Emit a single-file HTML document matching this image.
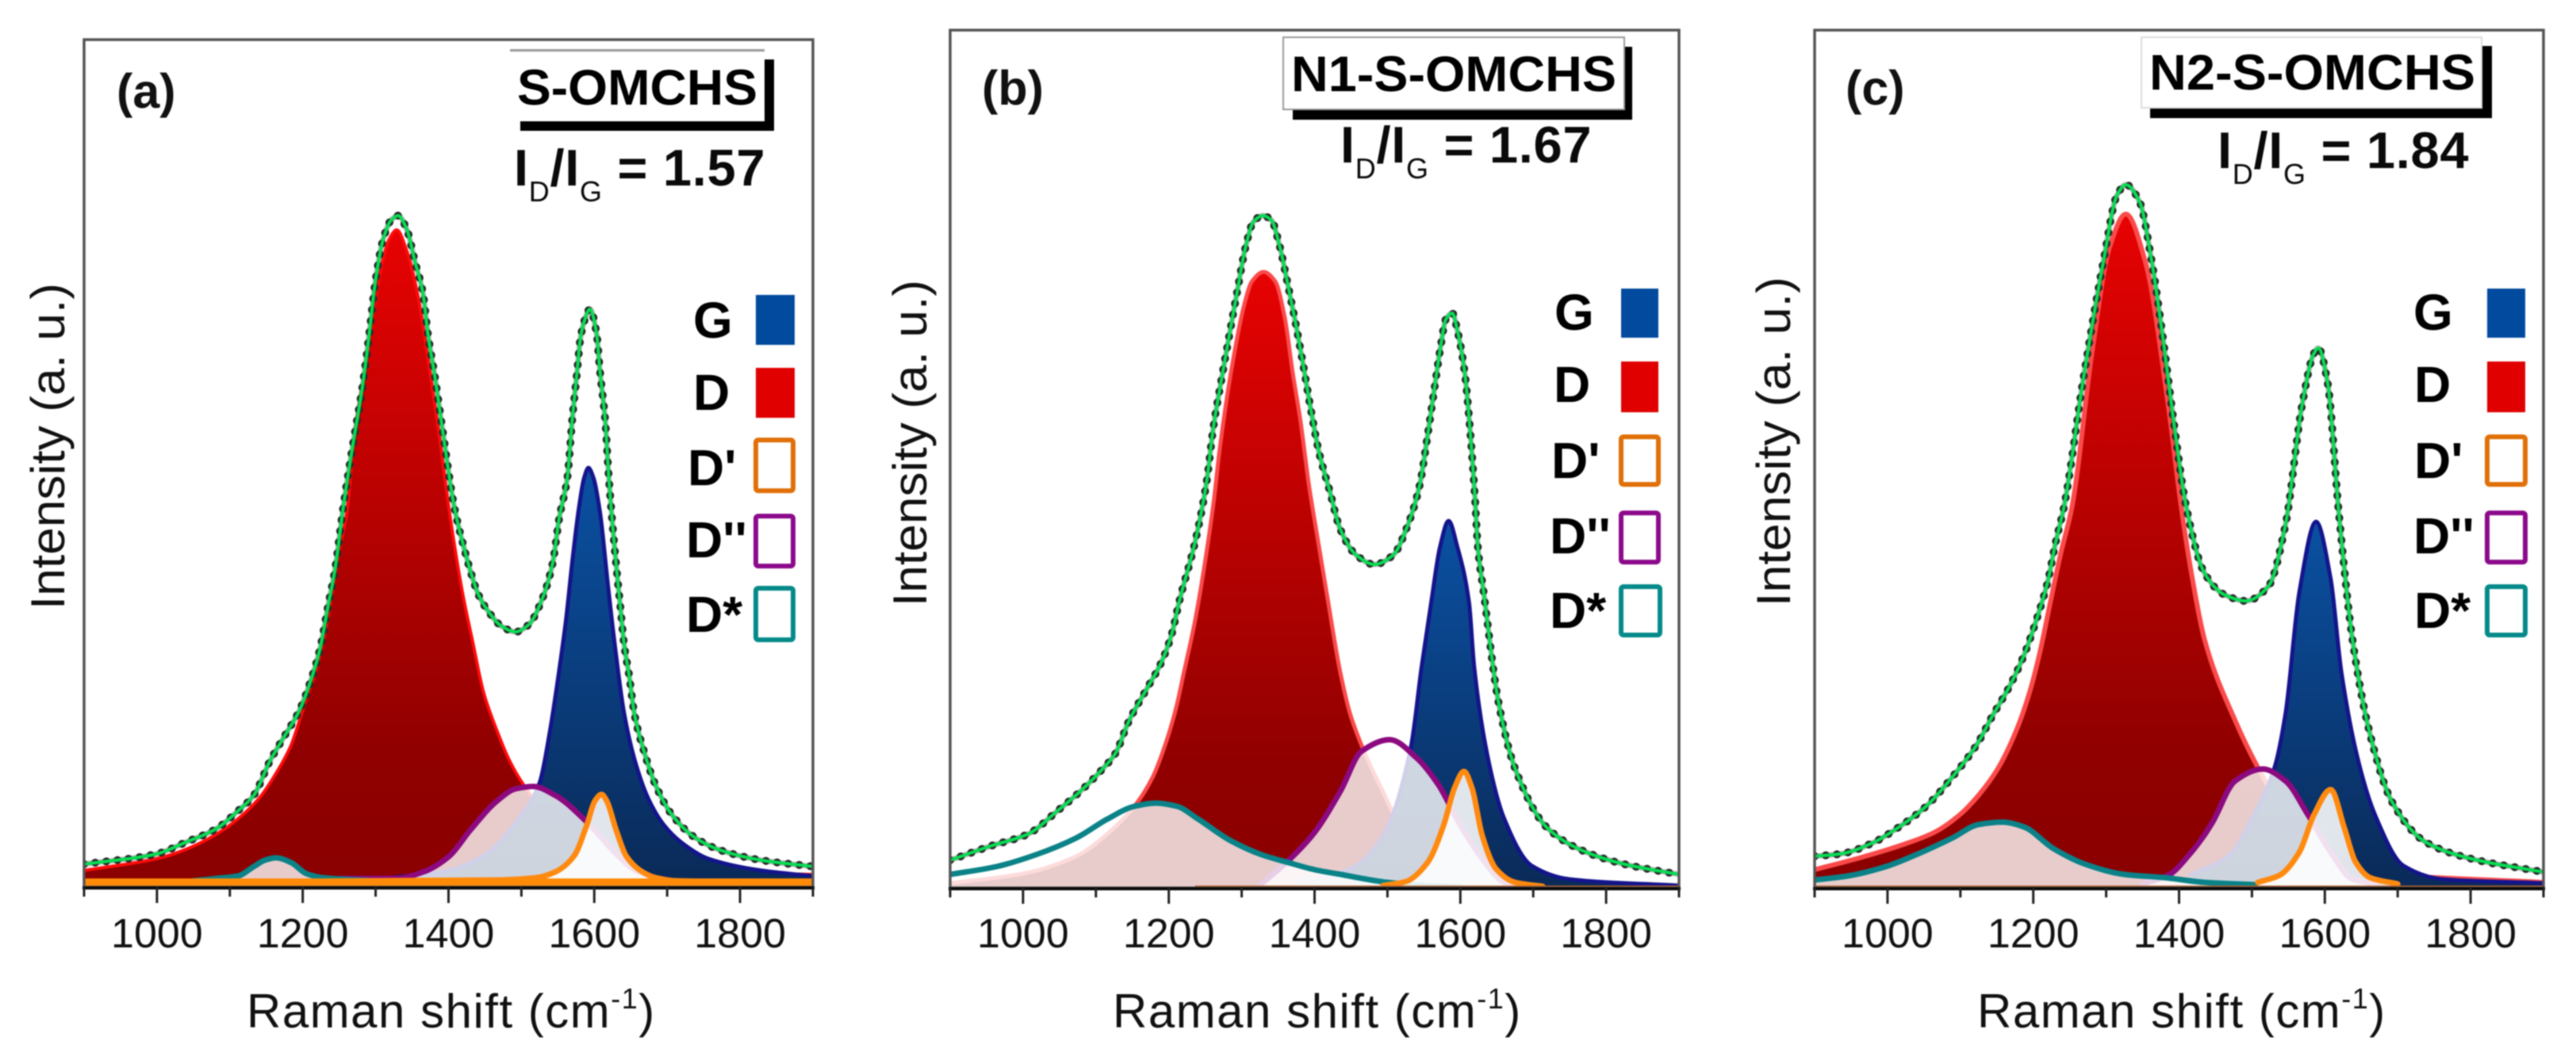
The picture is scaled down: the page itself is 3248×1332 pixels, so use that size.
<!DOCTYPE html>
<html>
<head>
<meta charset="utf-8">
<title>Raman spectra</title>
<style>
html,body{margin:0;padding:0;background:#fff;}
svg{display:block;filter:blur(0.7px);font-family:"Liberation Sans",sans-serif;}
.lg{font-size:64px;font-weight:bold;fill:#000;}
.hd{font-size:63px;font-weight:bold;fill:#000;}
.ratio{font-size:65px;font-weight:bold;fill:#0a0a0a;letter-spacing:0.7px;}
.sub{font-size:36px;font-weight:normal;}
.pl{font-size:61px;font-weight:bold;fill:#111;}
.ax{font-size:60px;fill:#111;}
.xt{letter-spacing:1.5px;}
.sup{font-size:36px;}
</style>
</head>
<body>
<svg id="fig" xmlns="http://www.w3.org/2000/svg" width="3248" height="1332" viewBox="0 0 3248 1332">
<defs>
<linearGradient id="redGrad" x1="0" y1="0" x2="0" y2="1"><stop offset="0" stop-color="#e60202"/><stop offset="0.8" stop-color="#900000"/><stop offset="1" stop-color="#8a0000"/></linearGradient>
<linearGradient id="blueGrad" x1="0" y1="0" x2="0" y2="1"><stop offset="0" stop-color="#0a50a2"/><stop offset="1" stop-color="#0a2a58"/></linearGradient>
</defs>
<rect width="3248" height="1332" fill="#fff"/>
<g id="plots"></g>

<g>
<text class="pl" x="147" y="136">(a)</text>
<rect x="643" y="62" width="321" height="3" fill="#999"/>
<rect x="964" y="75" width="12" height="90" fill="#000"/>
<rect x="656" y="153" width="320" height="12" fill="#000"/>
<text class="hd" x="652" y="132" textLength="303" lengthAdjust="spacingAndGlyphs">S-OMCHS</text>
<text class="ratio" x="648" y="234">I<tspan class="sub" dy="20">D</tspan><tspan dy="-20">/I</tspan><tspan class="sub" dy="20">G</tspan><tspan dy="-20"> = 1.57</tspan></text>
<text class="lg" x="874" y="426">G</text>
<rect x="953" y="372" width="49" height="63" fill="#024a9e"/>
<text class="lg" x="874" y="517">D</text>
<rect x="953" y="464" width="49" height="63" fill="#e00000"/>
<text class="lg" x="867" y="612">D'</text>
<rect x="953" y="555" width="47" height="64" rx="3" fill="#fff" stroke="#e07008" stroke-width="6"/>
<text class="lg" x="865" y="703">D''</text>
<rect x="953" y="651" width="47" height="63" rx="3" fill="#fff" stroke="#8c0a8c" stroke-width="6"/>
<text class="lg" x="865" y="797">D*</text>
<rect x="953" y="742" width="47" height="65" rx="3" fill="#fff" stroke="#058a8a" stroke-width="6"/>
<text class="ax xt" x="311" y="1296">Raman shift (cm<tspan class="sup" dy="-24">-1</tspan><tspan dy="24">)</tspan></text>
<text class="ax" transform="translate(81,769) rotate(-90)" textLength="412" lengthAdjust="spacingAndGlyphs">Intensity (a. u.)</text>
</g>

<g>
<text class="pl" x="1238" y="132">(b)</text>
<rect x="2048" y="59" width="10" height="92" fill="#000"/>
<rect x="1630" y="138" width="428" height="13" fill="#000"/>
<rect x="1618" y="47" width="430" height="91" fill="#fff" stroke="#999" stroke-width="2"/>
<text class="hd" x="1628" y="115" textLength="410" lengthAdjust="spacingAndGlyphs">N1-S-OMCHS</text>
<text class="ratio" x="1690" y="205">I<tspan class="sub" dy="20">D</tspan><tspan dy="-20">/I</tspan><tspan class="sub" dy="20">G</tspan><tspan dy="-20"> = 1.67</tspan></text>
<text class="lg" x="1960" y="416">G</text>
<rect x="2044" y="364" width="47" height="62" fill="#024a9e"/>
<text class="lg" x="1959" y="507">D</text>
<rect x="2044" y="456" width="47" height="64" fill="#e00000"/>
<text class="lg" x="1956" y="603">D'</text>
<rect x="2044" y="551" width="47" height="60" rx="3" fill="#fff" stroke="#e07008" stroke-width="6"/>
<text class="lg" x="1954" y="698">D''</text>
<rect x="2044" y="647" width="47" height="62" rx="3" fill="#fff" stroke="#8c0a8c" stroke-width="6"/>
<text class="lg" x="1954" y="792">D*</text>
<rect x="2044" y="740" width="49" height="61" rx="3" fill="#fff" stroke="#058a8a" stroke-width="6"/>
<text class="ax xt" x="1403" y="1296">Raman shift (cm<tspan class="sup" dy="-24">-1</tspan><tspan dy="24">)</tspan></text>
<text class="ax" transform="translate(1168,765) rotate(-90)" textLength="412" lengthAdjust="spacingAndGlyphs">Intensity (a. u.)</text>
</g>

<g>
<text class="pl" x="2327" y="132">(c)</text>
<rect x="3129" y="58" width="13" height="91" fill="#000"/>
<rect x="2711" y="136" width="431" height="13" fill="#000"/>
<rect x="2700" y="47" width="429" height="89" fill="#fff" stroke="#ddd" stroke-width="2"/>
<text class="hd" x="2710" y="113" textLength="411" lengthAdjust="spacingAndGlyphs">N2-S-OMCHS</text>
<text class="ratio" x="2796" y="212">I<tspan class="sub" dy="20">D</tspan><tspan dy="-20">/I</tspan><tspan class="sub" dy="20">G</tspan><tspan dy="-20"> = 1.84</tspan></text>
<text class="lg" x="3043" y="416">G</text>
<rect x="3136" y="364" width="48" height="62" fill="#024a9e"/>
<text class="lg" x="3044" y="507">D</text>
<rect x="3136" y="456" width="48" height="64" fill="#e00000"/>
<text class="lg" x="3044" y="603">D'</text>
<rect x="3136" y="551" width="48" height="60" rx="3" fill="#fff" stroke="#e07008" stroke-width="6"/>
<text class="lg" x="3043" y="698">D''</text>
<rect x="3136" y="647" width="48" height="62" rx="3" fill="#fff" stroke="#8c0a8c" stroke-width="6"/>
<text class="lg" x="3044" y="792">D*</text>
<rect x="3136" y="740" width="48" height="61" rx="3" fill="#fff" stroke="#058a8a" stroke-width="6"/>
<text class="ax xt" x="2493" y="1296">Raman shift (cm<tspan class="sup" dy="-24">-1</tspan><tspan dy="24">)</tspan></text>
<text class="ax" transform="translate(2257,765) rotate(-90)" textLength="416" lengthAdjust="spacingAndGlyphs">Intensity (a. u.)</text>
</g>
</svg>

<script>
// Shared axis data
const majorTicks = [1000, 1200, 1400, 1600, 1800];
const minorTicks = [900, 1100, 1300, 1500, 1700, 1900];
const tickLabels = ["1000", "1200", "1400", "1600", "1800"];

// Panel (a) S-OMCHS
const aTotalShift = [900,1000,1038,1082,1111,1133,1155,1176,1195,1213,1224,1235,1244,1256,1269,1282,1291,1300,1310,1321,1331,1343,1354,1365,1372,1381,1392,1408,1421,1430,1441,1456,1473,1492,1510,1528,1543,1552,1563,1570,1576,1581,1587,1594,1603,1608,1615,1620,1630,1636,1641,1648,1655,1669,1684,1706,1739,1775,1829,1900];
const aTotalValues = [23,36,50,68,90,110,153,186,216,260,296,350,393,476,553,626,690,760,810,835,841,823,783,743,690,640,570,473,423,393,363,340,323,316,325,356,403,460,510,586,640,686,710,723,693,643,583,510,401,346,300,260,213,163,123,86,56,40,28,20];
const aDShift = [900,1000,1038,1082,1111,1140,1165,1184,1202,1220,1231,1242,1251,1260,1271,1288,1307,1318,1329,1343,1358,1372,1386,1402,1419,1434,1448,1467,1484,1503,1550,1600,1700,1800,1900];
const aDValues = [15,30,41,61,80,106,140,173,223,273,316,373,423,463,563,660,773,810,823,796,740,660,573,463,366,300,240,190,153,123,70,40,18,12,10];
const aGShift = [1300,1400,1450,1500,1525,1539,1550,1561,1570,1579,1586,1592,1599,1608,1619,1630,1641,1655,1674,1695,1720,1756,1829,1900];
const aGValues = [4,15,35,85,126,190,256,330,406,473,510,523,510,466,373,286,213,156,106,73,50,30,15,8];
const aDdShift = [1250,1329,1365,1401,1430,1467,1492,1516,1546,1590,1630,1655,1684,1720];
const aDdValues = [5,5,13,33,66,103,118,121,110,76,36,16,6,0];
const aDpShift = [900,1467,1521,1546,1572,1590,1601,1610,1617,1630,1644,1663,1684,1712,1900];
const aDpValues = [0,3,6,13,33,73,103,111,103,66,33,15,6,2,0];
const aDsShift = [1050,1082,1111,1133,1148,1163,1184,1205,1227,1256,1300];
const aDsValues = [2,5,8,20,28,31,25,11,6,4,2];

// Panel (b) N1-S-OMCHS
const bTotalShift = [900,956,1007,1047,1080,1109,1127,1145,1171,1189,1204,1214,1237,1252,1261,1272,1283,1294,1305,1316,1329,1341,1352,1362,1373,1383,1395,1406,1421,1435,1457,1482,1508,1526,1544,1555,1564,1573,1580,1589,1596,1606,1612,1620,1624,1632,1652,1675,1720,1773,1825,1900];
const bTotalValues = [35,53,68,97,123,150,170,210,253,283,320,360,440,513,580,640,697,753,807,840,848,842,810,767,717,667,603,550,500,453,420,408,420,453,507,570,627,683,717,725,703,650,593,493,430,373,236,151,75,45,30,17];
const bDShift = [900,1000,1073,1118,1156,1178,1196,1210,1221,1236,1250,1262,1269,1280,1291,1302,1314,1330,1346,1359,1370,1381,1392,1403,1417,1435,1449,1468,1494,1525,1570,1637,1750,1900];
const bDValues = [6,18,40,70,107,140,183,227,273,337,413,490,547,620,680,730,765,777,765,720,650,587,510,447,370,273,219,172,121,66,28,11,3,2];
const bGShift = [1374,1449,1494,1532,1547,1560,1572,1584,1596,1612,1619,1637,1660,1698,1750,1900];
const bGValues = [7,24,66,177,280,360,430,463,430,360,279,168,88,28,11,3];
const bDdShift = [1327,1367,1400,1436,1464,1503,1540,1570,1600,1630,1660,1690];
const bDdValues = [5,37,70,123,172,187,164,130,79,37,7,0];
const bDpShift = [1494,1525,1555,1577,1592,1605,1616,1630,1649,1675,1713];
const bDpValues = [3,8,32,79,126,147,126,66,24,7,2];
const bDsShift = [900,964,1018,1073,1116,1153,1182,1211,1240,1284,1327,1364,1400,1436,1500,1550,1600];
const bDsValues = [17,27,42,63,87,103,107,103,87,60,42,32,23,17,7,3,1];

// Panel (c) N2-S-OMCHS
const cTotalShift = [900,936,980,1016,1053,1089,1122,1144,1169,1187,1205,1220,1231,1242,1269,1296,1315,1327,1346,1362,1378,1392,1410,1435,1462,1492,1523,1546,1569,1585,1591,1604,1619,1638,1662,1692,1738,1800,1900];
const cTotalValues = [37,40,54,74,100,137,177,214,254,290,337,384,434,477,641,786,871,884,862,790,690,590,477,394,367,359,378,455,607,671,678,633,472,310,191,106,55,34,17];
const cDShift = [900,962,1016,1064,1100,1125,1151,1176,1195,1209,1224,1238,1253,1281,1304,1327,1354,1385,1403,1417,1435,1477,1508,1538,1585,1662,1900];
const cDValues = [20,35,50,67,90,114,147,194,244,294,360,420,477,675,803,847,786,607,477,394,310,208,149,102,51,17,4];
const cGShift = [1415,1469,1500,1531,1546,1565,1588,1608,1623,1646,1669,1708,1762,1900];
const cGValues = [13,38,85,149,217,370,459,387,268,157,89,25,8,3];
const cDdShift = [1350,1387,1415,1435,1446,1477,1515,1546,1577,1608,1638,1669];
const cDdValues = [2,14,40,64,80,132,147,132,89,42,8,2];
const cDpShift = [1508,1538,1565,1585,1608,1627,1642,1662,1700];
const cDpValues = [4,13,42,89,121,72,30,10,2];
const cDsShift = [900,945,998,1042,1089,1125,1158,1187,1227,1271,1325,1380,1435,1508];
const cDsValues = [7,12,24,40,60,77,80,74,47,27,14,10,4,1];

const NS = "http://www.w3.org/2000/svg";
const plots = document.getElementById("plots");

function mk(parent, tag, attrs, name) {
  const node = document.createElementNS(NS, tag);
  for (const k in attrs) node.setAttribute(k, attrs[k]);
  
  
  parent.appendChild(node);
  return node;
}

// Monotone cubic path through the read points
function curvePath(px, py) {
  const n = px.length, d = [], m = [];
  for (let i = 0; i < n - 1; i++) d.push((py[i + 1] - py[i]) / (px[i + 1] - px[i]));
  m[0] = d[0]; m[n - 1] = d[n - 2];
  for (let i = 1; i < n - 1; i++) {
    if (d[i - 1] * d[i] <= 0) m[i] = 0;
    else {
      const a = px[i] - px[i - 1], b = px[i + 1] - px[i];
      m[i] = 3 * (a + b) / ((2 * b + a) / d[i - 1] + (b + 2 * a) / d[i]);
    }
  }
  let s = "M" + px[0].toFixed(1) + " " + py[0].toFixed(1);
  for (let i = 0; i < n - 1; i++) {
    const h = (px[i + 1] - px[i]) / 3;
    s += "C" + (px[i] + h).toFixed(1) + " " + (py[i] + m[i] * h).toFixed(1) + " " +
      (px[i + 1] - h).toFixed(1) + " " + (py[i + 1] - m[i + 1] * h).toFixed(1) + " " +
      px[i + 1].toFixed(1) + " " + py[i + 1].toFixed(1);
  }
  return s;
}

function drawPanel(cfg) {
  const xScale = v => cfg.left + (v - 900) / 1000 * (cfg.right - cfg.left);
  const yScale = v => cfg.base - v;
  const g = mk(plots, "g", {}, "panel-" + cfg.id + "-chart");
  const clip = mk(g, "clipPath", { id: "clip-" + cfg.id }, "panel-" + cfg.id + "-clip");
  mk(clip, "rect", { x: cfg.left, y: cfg.top, width: cfg.right - cfg.left, height: cfg.bottom - cfg.top }, "panel-" + cfg.id + "-clip-area");
  const plot = mk(g, "g", { "clip-path": "url(#clip-" + cfg.id + ")" }, "panel-" + cfg.id + "-series");

  function band(shift, vals, fill, fillOpacity, stroke, width, name) {
    const px = shift.map(xScale), py = vals.map(yScale);
    const line = curvePath(px, py);
    const area = line + "L" + px[px.length - 1].toFixed(1) + " " + cfg.base + "L" + px[0].toFixed(1) + " " + cfg.base + "Z";
    mk(plot, "path", { d: area, fill: fill, "fill-opacity": fillOpacity, stroke: "none" }, name + "-fill");
    mk(plot, "path", { d: line, fill: "none", stroke: stroke, "stroke-width": width, "stroke-linejoin": "round", "stroke-linecap": "round" }, name + "-line");
  }
  band(cfg.dS, cfg.dV, "url(#redGrad)", 1, cfg.dStroke, cfg.dWidth, "panel-" + cfg.id + "-d-band");
  band(cfg.gS, cfg.gV, "url(#blueGrad)", 1, "#14148c", 5, "panel-" + cfg.id + "-g-band");
  band(cfg.ddS, cfg.ddV, "#fff", 0.8, "#8c0a80", 7, "panel-" + cfg.id + "-d-double-prime-band");
  band(cfg.dsS, cfg.dsV, "#fff", 0.8, "#0a8288", 7, "panel-" + cfg.id + "-d-star-band");
  band(cfg.dpS, cfg.dpV, "#fff", 0.88, "#ff8a10", 7, "panel-" + cfg.id + "-d-prime-band");
  if (cfg.id === "a") {
    mk(plot, "rect", { x: cfg.left, y: 1108, width: cfg.right - cfg.left, height: 10, fill: "#ff8a08" }, "panel-a-baseline-band");
  } else {
    mk(plot, "rect", { x: xScale(cfg.baseFrom), y: cfg.bottom - 3, width: xScale(1900) - xScale(cfg.baseFrom), height: 3, fill: "#b8602a" }, "panel-" + cfg.id + "-baseline-line");
  }

  const total = curvePath(cfg.tS.map(xScale), cfg.tV.map(yScale));
  mk(plot, "path", { d: total, fill: "none", stroke: "#222", "stroke-width": 7, "stroke-opacity": 0.3 }, "panel-" + cfg.id + "-measured-trace");
  mk(plot, "path", { d: total, fill: "none", stroke: "#2a2a2a", "stroke-width": 10, "stroke-dasharray": "0.1 14", "stroke-linecap": "round" }, "panel-" + cfg.id + "-measured-points");
  mk(plot, "path", { d: total, fill: "none", stroke: "#06dc52", "stroke-width": 4 }, "panel-" + cfg.id + "-fit-line");

  // Frame
  mk(g, "rect", { x: cfg.left, y: cfg.top, width: cfg.right - cfg.left, height: cfg.bottom - cfg.top, fill: "none", stroke: "#555", "stroke-width": 3.5 }, "panel-" + cfg.id + "-frame");
  mk(g, "rect", { x: cfg.left - 2, y: cfg.bottom - 1, width: cfg.right - cfg.left + 4, height: 4, fill: "#0a0a0a" }, "panel-" + cfg.id + "-x-axis-line");

  // Ticks
  majorTicks.forEach(function (v, i) {
    mk(g, "line", { x1: xScale(v), x2: xScale(v), y1: cfg.bottom, y2: cfg.bottom + 20, stroke: "#222", "stroke-width": 3 }, "panel-" + cfg.id + "-major-tick");
    const t = mk(g, "text", { x: xScale(v), y: 1195, "text-anchor": "middle", "font-size": 52, fill: "#111" }, "panel-" + cfg.id + "-tick-label");
    t.textContent = tickLabels[i];
  });
  minorTicks.forEach(function (v) {
    mk(g, "line", { x1: xScale(v), x2: xScale(v), y1: cfg.bottom, y2: cfg.bottom + 12, stroke: "#222", "stroke-width": 3 }, "panel-" + cfg.id + "-minor-tick");
  });
}

drawPanel({ id: "a", left: 106, right: 1025, top: 50, bottom: 1119, base: 1113, dStroke: "#ff0a0a", dWidth: 4,
  tS: aTotalShift, tV: aTotalValues, dS: aDShift, dV: aDValues, gS: aGShift, gV: aGValues,
  ddS: aDdShift, ddV: aDdValues, dpS: aDpShift, dpV: aDpValues, dsS: aDsShift, dsV: aDsValues });
drawPanel({ id: "b", left: 1198, right: 2117, top: 38, bottom: 1120, base: 1120, baseFrom: 1236, dStroke: "#fb4a4a", dWidth: 5,
  tS: bTotalShift, tV: bTotalValues, dS: bDShift, dV: bDValues, gS: bGShift, gV: bGValues,
  ddS: bDdShift, ddV: bDdValues, dpS: bDpShift, dpV: bDpValues, dsS: bDsShift, dsV: bDsValues });
drawPanel({ id: "c", left: 2288, right: 3207, top: 38, bottom: 1120, base: 1117, baseFrom: 900, dStroke: "#fb4a4a", dWidth: 6,
  tS: cTotalShift, tV: cTotalValues, dS: cDShift, dV: cDValues, gS: cGShift, gV: cGValues,
  ddS: cDdShift, ddV: cDdValues, dpS: cDpShift, dpV: cDpValues, dsS: cDsShift, dsV: cDsValues });
</script>
</body>
</html>
